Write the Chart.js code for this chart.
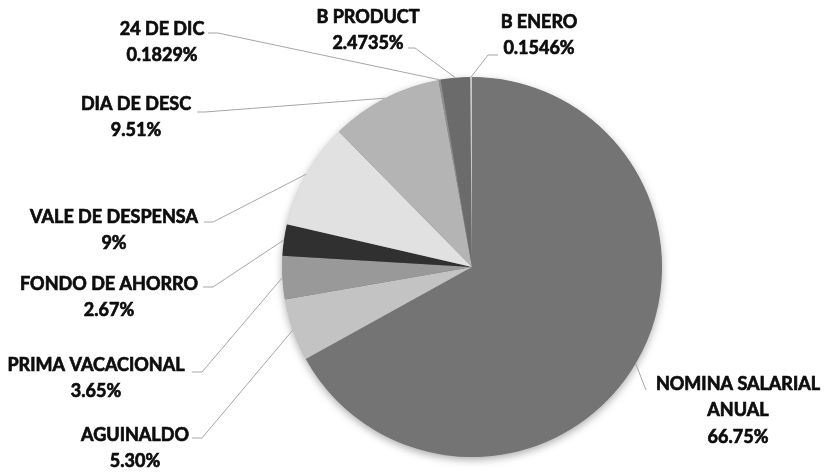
<!DOCTYPE html>
<html>
<head>
<meta charset="utf-8">
<script src="https://cdn.jsdelivr.net/npm/chart.js@4/dist/chart.umd.min.js"></script>
<style>
  html, body { margin: 0; padding: 0; background: #fff; }
  #wrap { width: 825px; height: 473px; }
</style>
</head>
<body>
<div id="wrap"><canvas id="chart" width="825" height="473"></canvas></div>
<script>
// categories, clockwise from 12 o'clock
const categories = [
  ['NOMINA SALARIAL', 'ANUAL'],
  ['AGUINALDO'],
  ['PRIMA VACACIONAL'],
  ['FONDO DE AHORRO'],
  ['VALE DE DESPENSA'],
  ['DIA DE DESC'],
  ['24 DE DIC'],
  ['B PRODUCT'],
  ['B ENERO'],
];
const shares = [66.75, 5.30, 3.65, 2.67, 9, 9.51, 0.1829, 2.4735, 0.1546];
const shareDecimals = [2, 2, 2, 2, 0, 2, 4, 4, 4];
const sliceColors = ['#747474', '#c3c3c3', '#999999', '#303030', '#e1e1e1', '#b4b4b4', '#8e8e8e', '#6b6b6b', '#c9c9c9'];

// where each label block sits: centre x, first line y, leader start and elbow
const labelSpots = [
  { cx: 738, y: 384, from: [646, 390], elbow: null },
  { cx: 135, y: 435, from: [192, 438], elbow: [202, 438] },
  { cx: 96, y: 365, from: [192, 372], elbow: [202, 372] },
  { cx: 109, y: 284, from: [203, 287], elbow: [213, 287] },
  { cx: 114, y: 217, from: [204, 222], elbow: [213, 222] },
  { cx: 136, y: 104, from: [197, 112], elbow: [205, 112] },
  { cx: 162, y: 29, from: [208, 33], elbow: [218, 33] },
  { cx: 368, y: 17, from: [408, 48], elbow: [415, 48] },
  { cx: 539, y: 22, from: [498, 55], elbow: [488, 55] },
];

const LINE_H = 26.5;
const FONT = 'bold 18px Lato, "Open Sans", sans-serif';

// soft shadow under the whole pie
const pieShadow = {
  id: 'pieShadow',
  beforeDatasetsDraw(chart) {
    const arc = chart.getDatasetMeta(0).data[0];
    if (!arc) return;
    const { x, y, outerRadius } = arc.getProps(['x', 'y', 'outerRadius'], true);
    const ctx = chart.ctx;
    ctx.save();
    ctx.shadowColor = 'rgba(0,0,0,0.35)';
    ctx.shadowBlur = 9;
    ctx.shadowOffsetY = 3;
    ctx.fillStyle = sliceColors[0];
    ctx.beginPath();
    ctx.arc(x, y, outerRadius - 0.5, 0, Math.PI * 2);
    ctx.fill();
    ctx.restore();
  }
};

// leader lines + category/percent labels
const pieLabels = {
  id: 'pieLabels',
  afterDatasetsDraw(chart) {
    const ctx = chart.ctx;
    const meta = chart.getDatasetMeta(0);
    ctx.save();
    meta.data.forEach((arc, i) => {
      const p = arc.getProps(['x', 'y', 'startAngle', 'endAngle', 'outerRadius'], true);
      const mid = (p.startAngle + p.endAngle) / 2;
      const ex = p.x + Math.cos(mid) * p.outerRadius;
      const ey = p.y + Math.sin(mid) * p.outerRadius;
      const spot = labelSpots[i];

      ctx.strokeStyle = '#a6a6a6';
      ctx.lineWidth = 1;
      ctx.beginPath();
      ctx.moveTo(spot.from[0], spot.from[1]);
      if (spot.elbow) ctx.lineTo(spot.elbow[0], spot.elbow[1]);
      ctx.lineTo(ex, ey);
      ctx.stroke();

      const lines = categories[i].concat(shares[i].toFixed(shareDecimals[i]) + '%');
      ctx.fillStyle = '#0d0d0d';
      ctx.strokeStyle = '#0d0d0d';
      ctx.lineWidth = 0.7; // a touch heavier than plain bold
      ctx.font = FONT;
      ctx.textAlign = 'center';
      ctx.textBaseline = 'middle';
      lines.forEach((t, k) => {
        ctx.fillText(t, spot.cx, spot.y + k * LINE_H);
        ctx.strokeText(t, spot.cx, spot.y + k * LINE_H);
      });
    });
    ctx.restore();
  }
};

new Chart(document.getElementById('chart'), {
  type: 'pie',
  data: {
    labels: categories.map((c) => c.join(' ')),
    datasets: [{
      data: shares,
      backgroundColor: sliceColors,
      borderWidth: 0,
    }],
  },
  options: {
    responsive: false,
    animation: false,
    devicePixelRatio: 1,
    layout: { padding: { left: 282, right: 163, top: 77, bottom: 16 } },
    plugins: {
      legend: { display: false },
      tooltip: { enabled: false },
    },
  },
  plugins: [pieShadow, pieLabels],
});
</script>
</body>
</html>
